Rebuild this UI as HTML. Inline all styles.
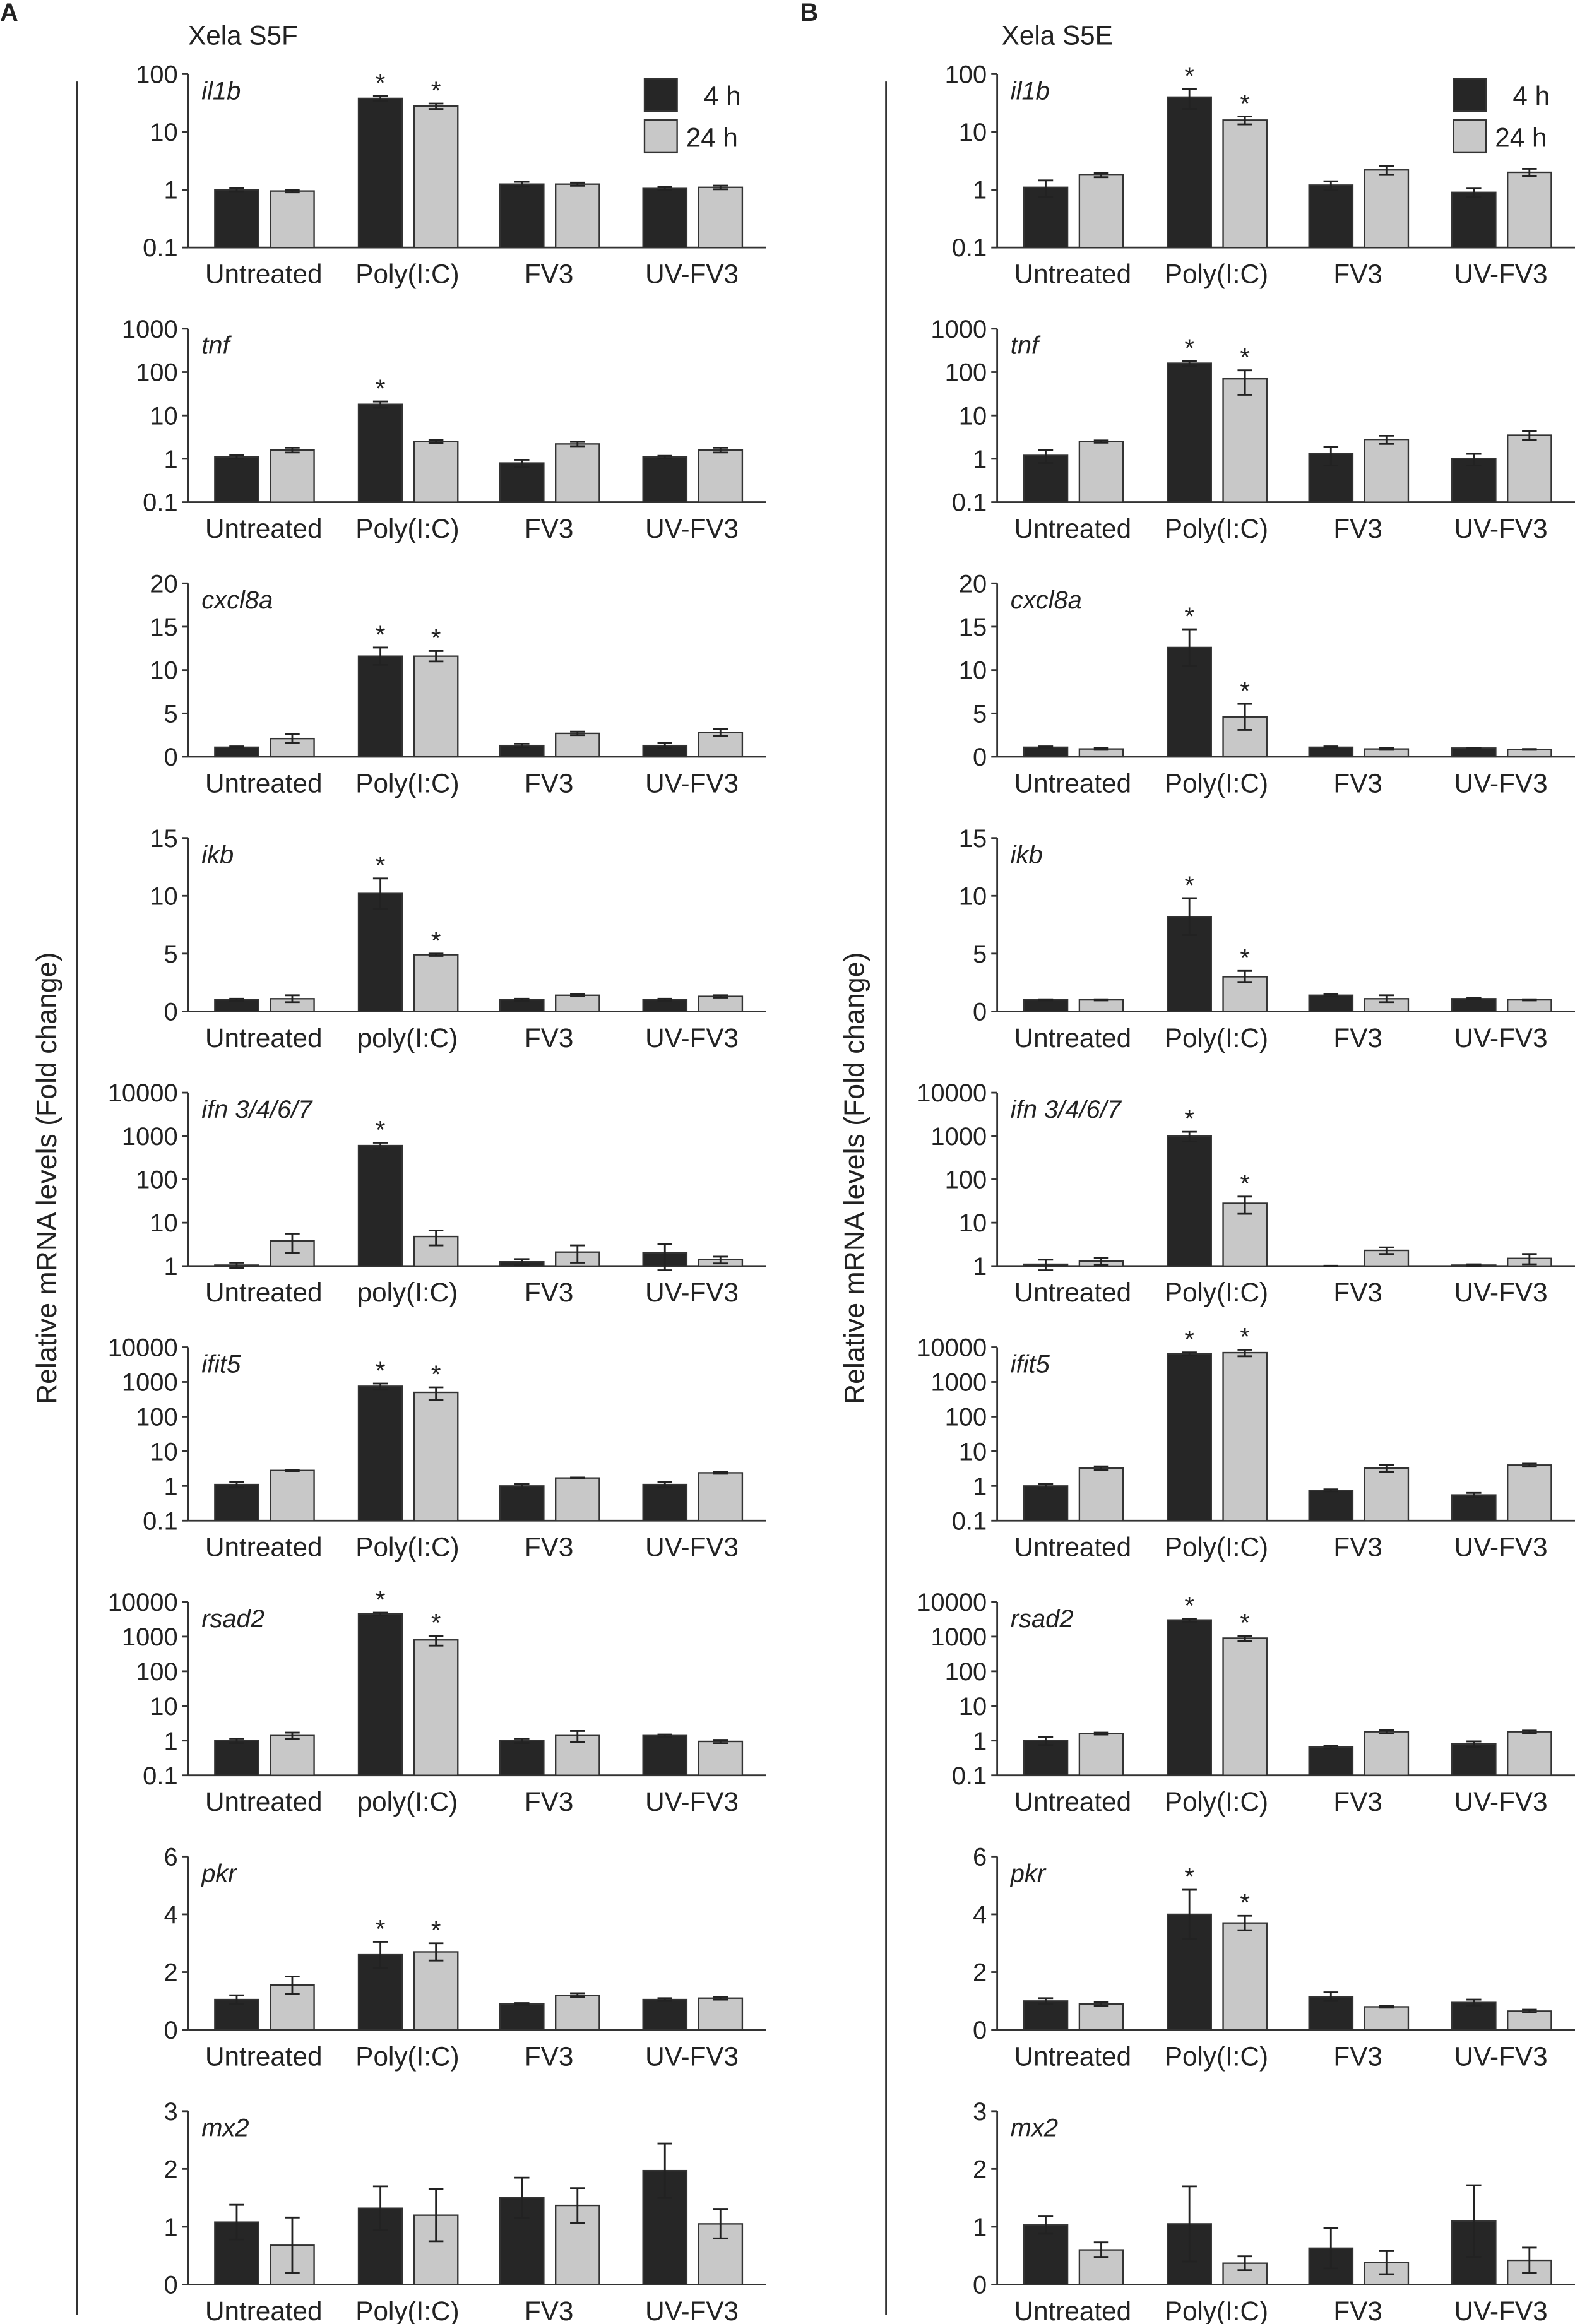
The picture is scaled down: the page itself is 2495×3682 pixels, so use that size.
<!DOCTYPE html>
<html><head><meta charset="utf-8"><style>
html,body{margin:0;padding:0;background:#fff}
svg{display:block}
text{font-family:"Liberation Sans",Arial,sans-serif;fill:#222}
</style></head><body>
<svg id="fig" xmlns="http://www.w3.org/2000/svg" width="2495" height="3682" viewBox="0 0 1063 1568" preserveAspectRatio="none">
<text x="0" y="14" font-size="17" font-weight="bold">A</text>
<text x="540" y="14" font-size="17" font-weight="bold">B</text>
<text x="127" y="30" font-size="18">Xela S5F</text>
<text x="676" y="30" font-size="18">Xela S5E</text>
<line x1="52" y1="55" x2="52" y2="1562" stroke="#333" stroke-width="1.2"/>
<line x1="598" y1="55" x2="598" y2="1562" stroke="#333" stroke-width="1.2"/>
<text transform="translate(38,795) rotate(-90)" text-anchor="middle" font-size="19">Relative mRNA levels (Fold change)</text>
<text transform="translate(583,795) rotate(-90)" text-anchor="middle" font-size="19">Relative mRNA levels (Fold change)</text>
</svg>
<script>
const categories=["Untreated","Poly(I:C)","FV3","UV-FV3"];
const genes=["il1b","tnf","cxcl8a","ikb","ifn 3/4/6/7","ifit5","rsad2","pkr","mx2"];
const logScale=[true,true,false,false,true,true,true,false,false];
const axisMin=[0.1,0.1,0,0,1,0.1,0.1,0,0];
const axisMax=[100,1000,20,15,10000,10000,10000,6,3];
const tickA=[[0.1,1,10,100],[0.1,1,10,100,1000],[0,5,10,15,20],[0,5,10,15],[1,10,100,1000,10000],[0.1,1,10,100,1000,10000],[0.1,1,10,100,1000,10000],[0,2,4,6],[0,1,2,3]];
const polyLabelA=["Poly(I:C)","Poly(I:C)","Poly(I:C)","poly(I:C)","poly(I:C)","Poly(I:C)","poly(I:C)","Poly(I:C)","Poly(I:C)"];
const polyLabelB=["Poly(I:C)","Poly(I:C)","Poly(I:C)","Poly(I:C)","Poly(I:C)","Poly(I:C)","Poly(I:C)","Poly(I:C)","Poly(I:C)"];
// Panel A (Xela S5F)
const darkA=[[1,38,1.25,1.05],[1.1,18,0.8,1.1],[1.1,11.6,1.3,1.3],[1,10.2,1,1],[1.05,600,1.25,2],[1.1,750,1,1.1],[1,4500,1,1.4],[1.05,2.6,0.9,1.05],[1.08,1.32,1.5,1.97]];
const darkErrA=[[0.06,4,0.12,0.06],[0.1,3,0.15,0.07],[0.1,1,0.2,0.3],[0.1,1.3,0.1,0.1],[0.15,100,0.2,1.2],[0.2,150,0.15,0.2],[0.15,400,0.15,0.1],[0.15,0.45,0.03,0.05],[0.3,0.38,0.35,0.47]];
const lightA=[[0.95,28,1.25,1.1],[1.6,2.5,2.2,1.6],[2.1,11.6,2.7,2.8],[1.1,4.9,1.4,1.3],[3.8,4.8,2.1,1.4],[2.8,500,1.7,2.4],[1.4,800,1.4,0.95],[1.55,2.7,1.2,1.1],[0.68,1.2,1.37,1.05]];
const lightErrA=[[0.05,3,0.08,0.08],[0.2,0.2,0.25,0.2],[0.5,0.6,0.2,0.4],[0.3,0.1,0.1,0.1],[1.8,1.8,0.9,0.25],[0.1,200,0.05,0.15],[0.3,250,0.5,0.1],[0.3,0.3,0.07,0.05],[0.48,0.45,0.3,0.25]];
const starDarkA=[1,1,1,1,1,1,1,1,0];
const starLightA=[1,0,1,1,0,1,1,1,0];
// Panel B (Xela S5E)
const darkB=[[1.1,40,1.2,0.9],[1.2,160,1.3,1.0],[1.1,12.6,1.1,1.0],[1,8.2,1.4,1.1],[1.1,1000,1.0,1.05],[1,6500,0.75,0.55],[1,3000,0.65,0.8],[1,4,1.15,0.95],[1.03,1.05,0.63,1.1]];
const darkErrB=[[0.35,15,0.2,0.15],[0.4,20,0.6,0.3],[0.1,2.1,0.1,0.05],[0.05,1.6,0.1,0.05],[0.3,250,0.02,0.05],[0.15,600,0.05,0.08],[0.25,300,0.05,0.15],[0.1,0.85,0.15,0.1],[0.15,0.65,0.35,0.62]];
const lightB=[[1.8,16,2.2,2],[2.5,70,2.8,3.5],[0.9,4.6,0.9,0.85],[1,3,1.1,1],[1.3,28,2.3,1.5],[3.3,7000,3.3,4],[1.6,900,1.8,1.8],[0.9,3.7,0.8,0.65],[0.6,0.37,0.38,0.42]];
const lightErrB=[[0.15,2.5,0.4,0.3],[0.15,40,0.6,0.8],[0.1,1.5,0.1,0.05],[0.05,0.5,0.3,0.05],[0.25,12,0.4,0.4],[0.4,1500,0.8,0.4],[0.1,150,0.2,0.15],[0.07,0.25,0.03,0.05],[0.13,0.12,0.2,0.22]];
const starDarkB=[1,1,1,1,1,1,1,1,0];
const starLightB=[1,1,1,1,1,1,1,1,0];

const NS="http://www.w3.org/2000/svg";
const svg=document.getElementById('fig');
function mk(tag,attrs,parent){const e=document.createElementNS(NS,tag);for(const k in attrs)e.setAttribute(k,attrs[k]);(parent||svg).appendChild(e);return e;}
function fmt(v){return String(v);}

function drawChart(px,gi,dark,dErr,light,lErr,sD,sL,polyLab,panel,withLegend){
  const top=50+gi*171.8, h=117, bottom=top+h;
  const x0=px, x1=px+390;
  const lg=logScale[gi], mn=axisMin[gi], mx=axisMax[gi];
  const y=v=>{ if(lg){v=Math.max(v,mn*0.5);return bottom-(Math.log10(v)-Math.log10(mn))/(Math.log10(mx)-Math.log10(mn))*h;} return bottom-(v-mn)/(mx-mn)*h; };
  const base=lg?bottom:y(0);
  const g=mk('g',{});
  
  
  const ya=mk('line',{x1:x0,y1:top,x2:x0,y2:bottom,stroke:'#333','stroke-width':1.2},g);
  
  
  const xa=mk('line',{x1:x0,y1:bottom,x2:x1,y2:bottom,stroke:'#333','stroke-width':1.2},g);
  
  
  tickA[gi].forEach(t=>{
    const ty=y(t);
    const tl=mk('line',{x1:x0-4,y1:ty,x2:x0,y2:ty,stroke:'#333','stroke-width':1.2},g);
    
    
    const tx=mk('text',{x:x0-7,y:ty+6,'text-anchor':'end','font-size':17},g);
    tx.textContent=fmt(t);
    
    
  });
  const gl=mk('text',{x:x0+9,y:top+17,'font-size':17,'font-style':'italic'},g);
  gl.textContent=genes[gi];
  
  
  const centers=[51,148,243.5,340];
  categories.forEach((c,i)=>{
    const cx=x0+centers[i];
    const lb=mk('text',{x:cx,y:bottom+24,'text-anchor':'middle','font-size':18},g);
    lb.textContent=(i===1?polyLab[gi]:c);
    
    
    [[dark,dErr,sD,-33,'#262626'],[light,lErr,sL,4.5,'#c8c8c8']].forEach((s,si)=>{
      const v=s[0][gi][i], e=s[1][gi][i];
      const bx=cx+s[3], by=y(v);
      const r=mk('rect',{x:bx,y:Math.min(by,base),width:29.5,height:Math.abs(base-by),fill:s[4],stroke:'#333','stroke-width':1},g);
      
      
      const mxv=bx+14.75, yt=y(v+e), yb=y(Math.max(v-e,lg?mn*0.6:0));
      const eb=mk('path',{d:`M${mxv},${yt}V${yb}M${mxv-5},${yt}H${mxv+5}M${mxv-5},${yb}H${mxv+5}`,stroke:'#222','stroke-width':1.2,fill:'none'},g);
      
      
      if(s[2][gi]&&i===1){
        const st=mk('text',{x:mxv,y:yt-3,'text-anchor':'middle','font-size':17},g);
        st.textContent='*';
        
        
      }
    });
  });
  if(withLegend){
    const lx=x0+308;
    const b1=mk('rect',{x:lx,y:53,width:22,height:22,fill:'#262626',stroke:'#333'},g);
    
    
    const t1=mk('text',{x:lx+40,y:71,'font-size':18},g);t1.textContent='4 h';
    
    
    const b2=mk('rect',{x:lx,y:81,width:22,height:22,fill:'#c8c8c8',stroke:'#333'},g);
    
    
    const t2=mk('text',{x:lx+28,y:99,'font-size':18},g);t2.textContent='24 h';
    
    
  }
}
for(let gi=0;gi<genes.length;gi++){
  drawChart(127,gi,darkA,darkErrA,lightA,lightErrA,starDarkA,starLightA,polyLabelA,'a',gi===0);
  drawChart(673,gi,darkB,darkErrB,lightB,lightErrB,starDarkB,starLightB,polyLabelB,'b',gi===0);
}
</script>
</body></html>
